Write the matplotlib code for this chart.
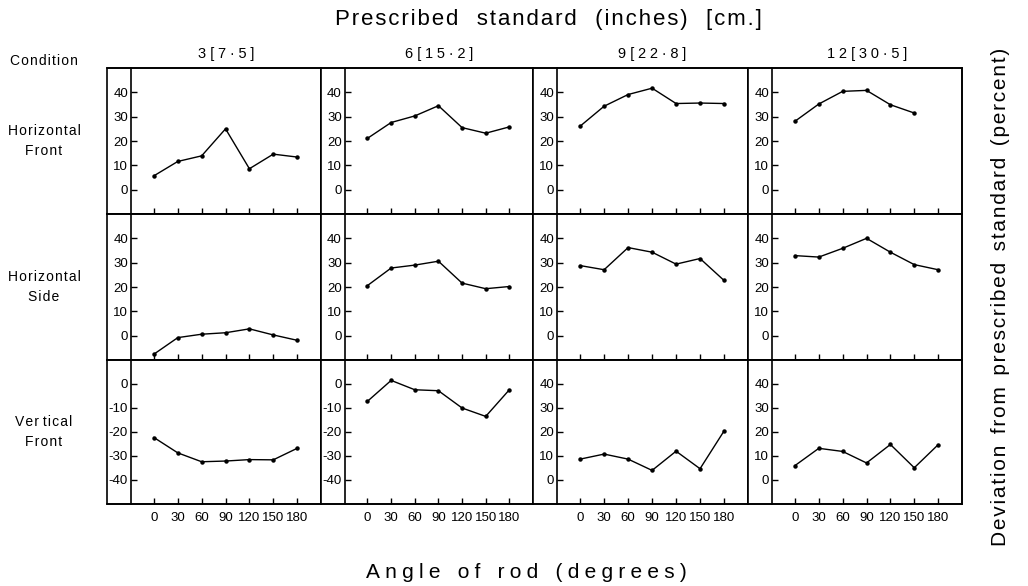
import numpy as np
import matplotlib.pyplot as plt
from matplotlib.patches import Rectangle
from matplotlib.transforms import blended_transform_factory

plt.rcParams['font.family'] = ['Liberation Sans', 'DejaVu Sans']
plt.rcParams['axes.unicode_minus'] = False

angles = [0, 30, 60, 90, 120, 150, 180]
standards = ['3 [7·5]', '6 [15·2]', '9 [22·8]', '12 [30·5]']
conditions = ['Horizontal\nFront', 'Horizontal\nSide', 'Ver tical\nFront']

# deviation from prescribed standard (percent)
hf_3 = [5.7, 11.6, 13.9, 25.0, 8.6, 14.6, 13.4]
hf_6 = [21.1, 27.6, 30.3, 34.5, 25.5, 23.2, 25.8]
hf_9 = [26.1, 34.3, 39.1, 41.7, 35.4, 35.6, 35.4]
hf_12 = [28.1, 35.2, 40.4, 40.8, 34.9, 31.5]

hs_3 = [-7.6, -0.8, 0.6, 1.2, 2.8, 0.3, -1.9]
hs_6 = [20.6, 27.8, 29.0, 30.6, 21.6, 19.3, 20.2]
hs_9 = [28.8, 27.1, 36.2, 34.3, 29.4, 31.7, 22.7]
hs_12 = [32.9, 32.3, 35.9, 40.0, 34.3, 29.2, 27.1]

vf_3 = [-22.3, -28.7, -32.4, -32.1, -31.5, -31.6, -26.8]
vf_6 = [-7.2, 1.5, -2.4, -2.8, -10.0, -13.5, -2.4]
vf_9 = [8.7, 10.8, 8.7, 4.0, 12.0, 4.7, 20.4]
vf_12 = [6.0, 13.2, 11.9, 7.1, 14.8, 5.1, 14.7]

data = [[hf_3, hf_6, hf_9, hf_12],
        [hs_3, hs_6, hs_9, hs_12],
        [vf_3, vf_6, vf_9, vf_12]]


def spaced(s, n=1, gap='  '):
    # fake letter tracking with hair spaces
    hs = '\u200a' * n
    return '\n'.join(gap.join(hs.join(w) for w in line.split(' '))
                     for line in s.split('\n'))


W, H = 1028, 586
col_px = [107, 321, 533, 748, 962]
row_px = [68, 214, 360, 504]
x_lo, x_hi, x_spine = -59, 210, -29

fig = plt.figure(figsize=(W / 100, H / 100), dpi=100)

for r in range(3):
    for c in range(4):
        x0, x1 = col_px[c], col_px[c + 1]
        y0, y1 = row_px[r], row_px[r + 1]
        ax = fig.add_axes([x0 / W, 1 - y1 / H, (x1 - x0) / W, (y1 - y0) / H])
        vals = data[r][c]
        ax.plot(angles[:len(vals)], vals, color='k', lw=1.0, marker='o', ms=2.2)
        ax.set_xlim(x_lo, x_hi)
        if r == 2 and c < 2:
            ax.set_ylim(-50, 10)
            ax.set_yticks([0, -10, -20, -30, -40])
        else:
            ax.set_ylim(-10, 50)
            ax.set_yticks([0, 10, 20, 30, 40])
        ax.spines['left'].set_position(('data', x_spine))
        for s in ax.spines.values():
            s.set_linewidth(1.2)
        ax.add_patch(Rectangle((0, 0), 1, 1, transform=ax.transAxes, fill=False,
                               lw=1.2, ec='k', clip_on=False))
        ax.set_xticks(angles)
        ax.tick_params(axis='y', direction='in', length=4, width=1, labelsize=9.5, pad=2)
        ax.tick_params(axis='x', direction='in', length=4, width=1, labelsize=9.5, pad=6)
        if r < 2:
            ax.set_xticklabels([])
        if r == 0:
            tr = blended_transform_factory(ax.transData, ax.transAxes)
            ax.text((x_spine + x_hi) / 2, 1.05, spaced(standards[c], 3, ' '),
                    transform=tr, ha='center', va='bottom', fontsize=10.5)

# labels
fig.text(44 / W, 1 - 61 / H, spaced('Condition'), ha='center', va='center',
         fontsize=10)
for r, lab in enumerate(conditions):
    yc = (row_px[r] + row_px[r + 1]) / 2
    fig.text(44 / W, 1 - yc / H, spaced(lab, 1, ' '), ha='center', va='center',
             fontsize=10, linespacing=1.6)

fig.text(548 / W, 1 - 20 / H, spaced('Prescribed standard (inches) [cm.]', 1, '   '),
         ha='center', va='center', fontsize=16)
fig.text(526 / W, 1 - 573 / H, spaced('Angle of rod (degrees)', 3, '   '),
         ha='center', va='center', fontsize=15)
fig.text(1001 / W, 1 - 297 / H,
         spaced('Deviation from prescribed standard (percent)', 1, '  '),
         ha='center', va='center', rotation=90, fontsize=15)

fig.savefig('out.png', dpi=100)
